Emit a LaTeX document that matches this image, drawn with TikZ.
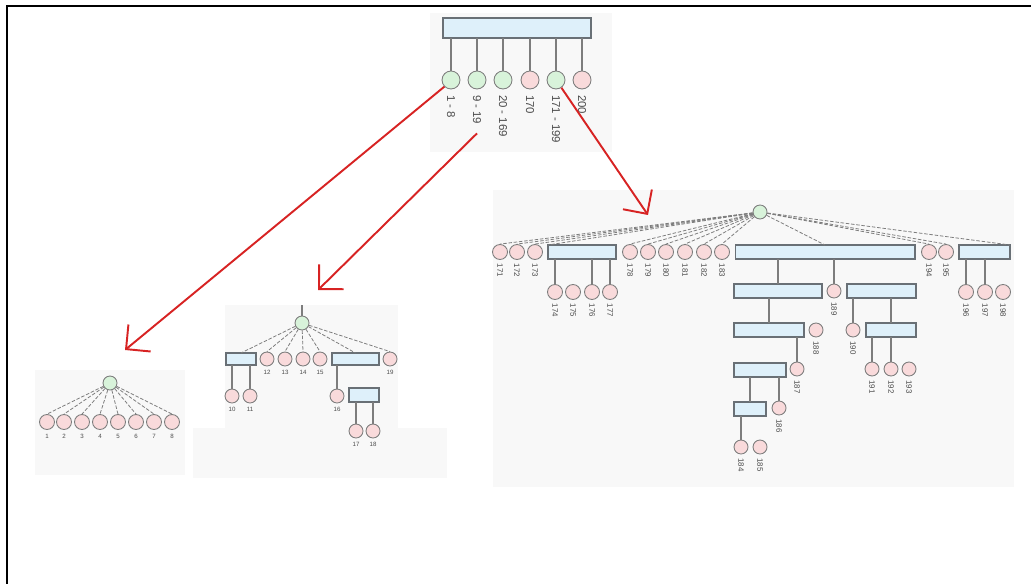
\documentclass[tikz,border=0pt]{standalone}
\usepackage{fontspec}
\setmainfont{Liberation Sans}
\usetikzlibrary{arrows.meta}

\definecolor{leafpink}{RGB}{249,218,219}
\definecolor{nodegreen}{RGB}{216,243,218}
\definecolor{boxblue}{RGB}{222,240,250}
\definecolor{boxedge}{RGB}{105,112,118}
\definecolor{edgegray}{RGB}{125,125,125}
\definecolor{arrowred}{RGB}{215,35,35}
\definecolor{panel}{RGB}{248,248,248}

\tikzset{
  leaf/.style={circle, draw=edgegray, fill=leafpink, line width=0.5pt, inner sep=0pt, minimum size=0.3cm},
  grp/.style={leaf, fill=nodegreen},
  bx/.style={rectangle, draw=boxedge, fill=boxblue, line width=0.6pt, inner sep=0pt, outer sep=0pt, minimum height=0.28cm},
  lnk/.style={draw=edgegray, line width=0.6pt},
  spoke/.style={draw=edgegray, dashed, dash pattern=on 2pt off 1pt, line width=0.45pt},
  num/.style={rotate=-90, anchor=west, inner sep=0pt, text=black!70, font=\fontsize{4.5}{5}\selectfont},
  smalllbl/.style={anchor=north, inner sep=0pt, text=black!70, font=\fontsize{3.5}{4}\selectfont},
  jump/.style={draw=arrowred, line width=1.1pt, -{Straight Barb[length=0.35cm,width=0.7cm]}}
}

\begin{document}
\begin{tikzpicture}[x=0.02cm,y=-0.02cm]
\useasboundingbox (0,0) rectangle (1031,584);

% backgrounds
\fill[panel] (430,13) rectangle (612,152);
\fill[panel] (35,370) rectangle (185,475);
\fill[panel] (225,305) rectangle (398,478);
\fill[panel] (193,428) rectangle (447,478);
\fill[panel] (493,190) rectangle (1014,487);
\draw[line width=1.5pt] (7,584) -- (7,6) -- (1031,6);

% top level
\node[bx, minimum width=2.96cm, minimum height=0.4cm] (root) at (517,28) {};
\node[grp, minimum size=0.36cm] (t1) at (451,80) {};
\node[grp, minimum size=0.36cm] (t2) at (477,80) {};
\node[grp, minimum size=0.36cm] (t3) at (503,80) {};
\node[leaf, minimum size=0.36cm] (t4) at (530,80) {};
\node[grp, minimum size=0.36cm] (t5) at (556,80) {};
\node[leaf, minimum size=0.36cm] (t6) at (582,80) {};
\draw[lnk, line width=0.8pt] (t1) -- (t1 |- root.south);
\draw[lnk, line width=0.8pt] (t2) -- (t2 |- root.south);
\draw[lnk, line width=0.8pt] (t3) -- (t3 |- root.south);
\draw[lnk, line width=0.8pt] (t4) -- (t4 |- root.south);
\draw[lnk, line width=0.8pt] (t5) -- (t5 |- root.south);
\draw[lnk, line width=0.8pt] (t6) -- (t6 |- root.south);
\node[num, font=\fontsize{6.5}{7}\selectfont] (lt1) at ([yshift=-3pt]t1.south) {1 - 8};
\node[num, font=\fontsize{6.5}{7}\selectfont] (lt2) at ([yshift=-3pt]t2.south) {9 - 19};
\node[num, font=\fontsize{6.5}{7}\selectfont] (lt3) at ([yshift=-3pt]t3.south) {20 - 169};
\node[num, font=\fontsize{6.5}{7}\selectfont] (lt4) at ([yshift=-3pt]t4.south) {170};
\node[num, font=\fontsize{6.5}{7}\selectfont] (lt5) at ([yshift=-3pt]t5.south) {171 - 199};
\node[num, font=\fontsize{6.5}{7}\selectfont] (lt6) at ([yshift=-3pt]t6.south) {200};

% 1 - 8
\node[grp, minimum size=0.28cm] (lroot) at (110,383) {};
\node[leaf] (v1) at (47,422) {};
\node[leaf] (v2) at (64,422) {};
\node[leaf] (v3) at (82,422) {};
\node[leaf] (v4) at (100,422) {};
\node[leaf] (v5) at (118,422) {};
\node[leaf] (v6) at (136,422) {};
\node[leaf] (v7) at (154,422) {};
\node[leaf] (v8) at (172,422) {};
\draw[spoke] (lroot) -- (v1.north);
\draw[spoke] (lroot) -- (v2.north);
\draw[spoke] (lroot) -- (v3.north);
\draw[spoke] (lroot) -- (v4.north);
\draw[spoke] (lroot) -- (v5.north);
\draw[spoke] (lroot) -- (v6.north);
\draw[spoke] (lroot) -- (v7.north);
\draw[spoke] (lroot) -- (v8.north);
\node[smalllbl] (l1) at ([yshift=-2pt]v1.south) {1};
\node[smalllbl] (l2) at ([yshift=-2pt]v2.south) {2};
\node[smalllbl] (l3) at ([yshift=-2pt]v3.south) {3};
\node[smalllbl] (l4) at ([yshift=-2pt]v4.south) {4};
\node[smalllbl] (l5) at ([yshift=-2pt]v5.south) {5};
\node[smalllbl] (l6) at ([yshift=-2pt]v6.south) {6};
\node[smalllbl] (l7) at ([yshift=-2pt]v7.south) {7};
\node[smalllbl] (l8) at ([yshift=-2pt]v8.south) {8};

% 9 - 19
\coordinate (mtop) at (302,305);
\node[grp, minimum size=0.28cm] (mroot) at (302,323) {};
\draw[lnk] (mroot) -- (mtop);
\node[bx, minimum width=0.6cm, minimum height=0.24cm] (ml) at (241,359) {};
\node[leaf, minimum size=0.28cm] (v12) at (267,359) {};
\node[leaf, minimum size=0.28cm] (v13) at (285,359) {};
\node[leaf, minimum size=0.28cm] (v14) at (303,359) {};
\node[leaf, minimum size=0.28cm] (v15) at (320,359) {};
\node[bx, minimum width=0.94cm, minimum height=0.24cm] (mr) at (355.5,359) {};
\node[leaf, minimum size=0.28cm] (v19) at (390,359) {};
\node[leaf, minimum size=0.28cm] (v10) at (232,396) {};
\node[leaf, minimum size=0.28cm] (v11) at (250,396) {};
\node[leaf, minimum size=0.28cm] (v16) at (337,396) {};
\node[bx, minimum width=0.6cm] (mr2) at (364,395) {};
\node[leaf, minimum size=0.28cm] (v17) at (356,431) {};
\node[leaf, minimum size=0.28cm] (v18) at (373,431) {};
\draw[spoke] (mroot) -- (ml.north);
\draw[spoke] (mroot) -- (v12.north);
\draw[spoke] (mroot) -- (v13.north);
\draw[spoke] (mroot) -- (v14.north);
\draw[spoke] (mroot) -- (v15.north);
\draw[spoke] (mroot) -- (mr.north);
\draw[spoke] (mroot) -- (v19.north);
\draw[lnk] (v10) -- (v10 |- ml.south);
\draw[lnk] (v11) -- (v11 |- ml.south);
\draw[lnk] (v16) -- (v16 |- mr.south);
\draw[lnk] (v17) -- (v17 |- mr2.south);
\draw[lnk] (v18) -- (v18 |- mr2.south);
\node[smalllbl] (l12) at ([yshift=-2pt]v12.south) {12};
\node[smalllbl] (l13) at ([yshift=-2pt]v13.south) {13};
\node[smalllbl] (l14) at ([yshift=-2pt]v14.south) {14};
\node[smalllbl] (l15) at ([yshift=-2pt]v15.south) {15};
\node[smalllbl] (l19) at ([yshift=-2pt]v19.south) {19};
\node[smalllbl] (l10) at ([yshift=-2pt]v10.south) {10};
\node[smalllbl] (l11) at ([yshift=-2pt]v11.south) {11};
\node[smalllbl] (l16) at ([yshift=-2pt]v16.south) {16};
\node[smalllbl] (l17) at ([yshift=-2pt]v17.south) {17};
\node[smalllbl] (l18) at ([yshift=-2pt]v18.south) {18};

% 171 - 199
\node[grp, minimum size=0.28cm] (rroot) at (760,212) {};
\node[leaf] (v171) at (500,252) {};
\node[leaf] (v172) at (517,252) {};
\node[leaf] (v173) at (535,252) {};
\node[bx, minimum width=1.36cm] (ra) at (582,252) {};
\node[leaf] (v178) at (630,252) {};
\node[leaf] (v179) at (648,252) {};
\node[leaf] (v180) at (666,252) {};
\node[leaf] (v181) at (685,252) {};
\node[leaf] (v182) at (704,252) {};
\node[leaf] (v183) at (722,252) {};
\node[bx, minimum width=3.6cm] (rb) at (825,252) {};
\node[leaf] (v194) at (929,252) {};
\node[leaf] (v195) at (946,252) {};
\node[bx, minimum width=1.02cm] (rc) at (984.5,252) {};
\draw[spoke] (rroot) -- (v171.north);
\draw[spoke] (rroot) -- (v172.north);
\draw[spoke] (rroot) -- (v173.north);
\draw[spoke] (rroot) -- (ra.north west);
\draw[spoke] (rroot) -- (v178.north);
\draw[spoke] (rroot) -- (v179.north);
\draw[spoke] (rroot) -- (v180.north);
\draw[spoke] (rroot) -- (v181.north);
\draw[spoke] (rroot) -- (v182.north);
\draw[spoke] (rroot) -- (v183.north);
\draw[spoke] (rroot) -- (rb.north);
\draw[spoke] (rroot) -- (v194.north);
\draw[spoke] (rroot) -- (v195.north);
\draw[spoke] (rroot) -- (rc.north east);

\node[leaf] (v174) at (555,292) {};
\node[leaf] (v175) at (573,292) {};
\node[leaf] (v176) at (592,292) {};
\node[leaf] (v177) at (610,292) {};
\draw[lnk] (v174) -- (v174 |- ra.south);
\draw[lnk] (v176) -- (v176 |- ra.south);
\draw[lnk] (v177) -- (v177 |- ra.south);

\node[leaf] (v196) at (966,292) {};
\node[leaf] (v197) at (985,292) {};
\node[leaf] (v198) at (1003,292) {};
\draw[lnk] (v196) -- (v196 |- rc.south);
\draw[lnk] (v197) -- (v197 |- rc.south);

\node[bx, minimum width=1.76cm] (rb1) at (778,291) {};
\node[leaf, minimum size=0.28cm] (v189) at (834,291) {};
\node[bx, minimum width=1.38cm] (rb2) at (881.5,291) {};
\node[bx, minimum width=1.4cm] (rb11) at (769,330) {};
\node[leaf, minimum size=0.28cm] (v188) at (816,330) {};
\node[leaf, minimum size=0.28cm] (v190) at (853,330) {};
\node[bx, minimum width=1.0cm] (rb21) at (891,330) {};
\node[bx, minimum width=1.04cm] (rb111) at (760,370) {};
\node[leaf, minimum size=0.28cm] (v187) at (797,369) {};
\node[leaf, minimum size=0.28cm] (v191) at (872,369) {};
\node[leaf, minimum size=0.28cm] (v192) at (891,369) {};
\node[leaf, minimum size=0.28cm] (v193) at (909,369) {};
\node[bx, minimum width=0.64cm] (rb1111) at (750,409) {};
\node[leaf, minimum size=0.28cm] (v186) at (779,408) {};
\node[leaf, minimum size=0.28cm] (v184) at (741,447) {};
\node[leaf, minimum size=0.28cm] (v185) at (760,447) {};
\draw[lnk] (rb1) -- (rb1 |- rb.south);
\draw[lnk] (v189) -- (v189 |- rb.south);
\draw[lnk] (rb11) -- (rb11 |- rb1.south);
\draw[lnk] (v190) -- (v190 |- rb2.south);
\draw[lnk] (rb21) -- (rb21 |- rb2.south);
\draw[lnk] (v187) -- (v187 |- rb11.south);
\draw[lnk] (v191) -- (v191 |- rb21.south);
\draw[lnk] (v192) -- (v192 |- rb21.south);
\draw[lnk] (rb1111) -- (rb1111 |- rb111.south);
\draw[lnk] (v186) -- (v186 |- rb111.south);
\draw[lnk] (v184) -- (v184 |- rb1111.south);

\node[num] (l171) at ([yshift=-2pt]v171.south) {171};
\node[num] (l172) at ([yshift=-2pt]v172.south) {172};
\node[num] (l173) at ([yshift=-2pt]v173.south) {173};
\node[num] (l174) at ([yshift=-2pt]v174.south) {174};
\node[num] (l175) at ([yshift=-2pt]v175.south) {175};
\node[num] (l176) at ([yshift=-2pt]v176.south) {176};
\node[num] (l177) at ([yshift=-2pt]v177.south) {177};
\node[num] (l178) at ([yshift=-2pt]v178.south) {178};
\node[num] (l179) at ([yshift=-2pt]v179.south) {179};
\node[num] (l180) at ([yshift=-2pt]v180.south) {180};
\node[num] (l181) at ([yshift=-2pt]v181.south) {181};
\node[num] (l182) at ([yshift=-2pt]v182.south) {182};
\node[num] (l183) at ([yshift=-2pt]v183.south) {183};
\node[num] (l184) at ([yshift=-2pt]v184.south) {184};
\node[num] (l185) at ([yshift=-2pt]v185.south) {185};
\node[num] (l186) at ([yshift=-2pt]v186.south) {186};
\node[num] (l187) at ([yshift=-2pt]v187.south) {187};
\node[num] (l188) at ([yshift=-2pt]v188.south) {188};
\node[num] (l189) at ([yshift=-2pt]v189.south) {189};
\node[num] (l190) at ([yshift=-2pt]v190.south) {190};
\node[num] (l191) at ([yshift=-2pt]v191.south) {191};
\node[num] (l192) at ([yshift=-2pt]v192.south) {192};
\node[num] (l193) at ([yshift=-2pt]v193.south) {193};
\node[num] (l194) at ([yshift=-2pt]v194.south) {194};
\node[num] (l195) at ([yshift=-2pt]v195.south) {195};
\node[num] (l196) at ([yshift=-2pt]v196.south) {196};
\node[num] (l197) at ([yshift=-2pt]v197.south) {197};
\node[num] (l198) at ([yshift=-2pt]v198.south) {198};

% red arrows
\coordinate (hit1) at (125,350);
\coordinate (hit2) at (318,290);
\coordinate (hit3) at (648,215);
\draw[jump] (t1.225) -- (hit1);
\draw[jump] ([yshift=-5pt]lt2.east) -- (hit2);
\draw[jump] (t5.-55) -- (hit3);
\end{tikzpicture}
\end{document}
